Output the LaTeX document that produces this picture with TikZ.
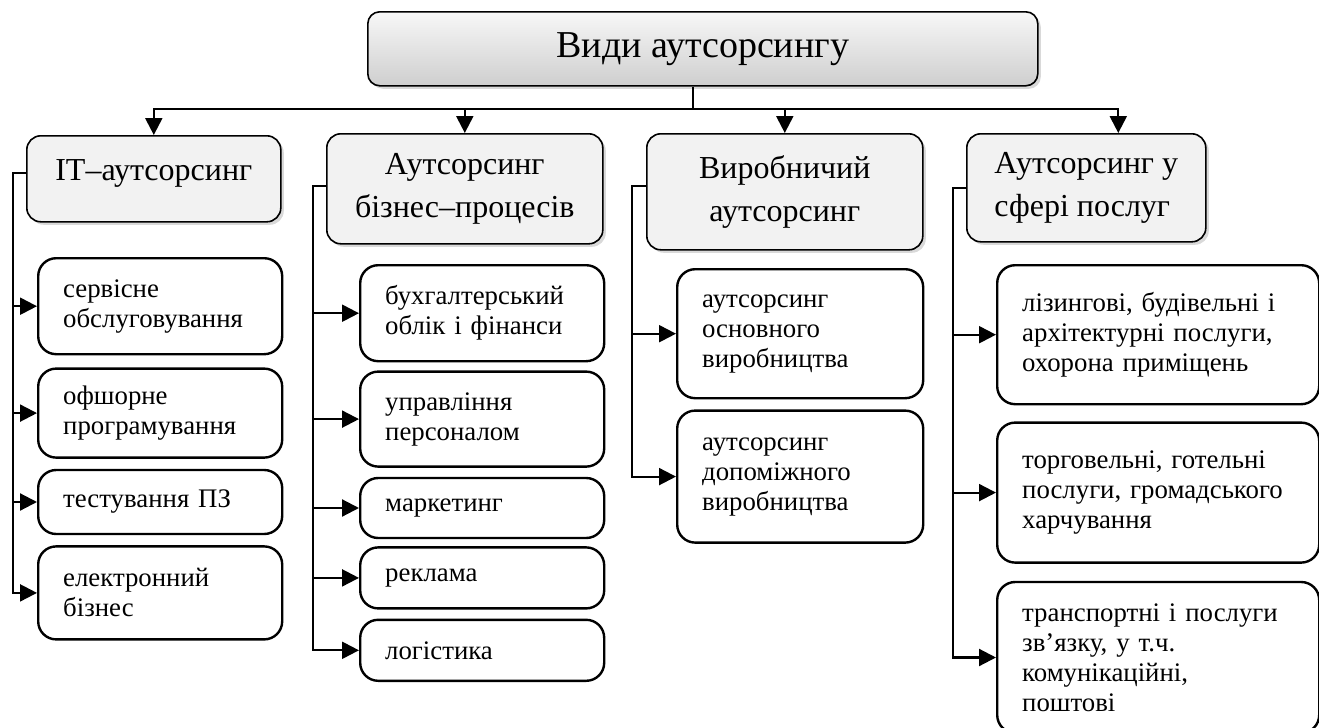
\documentclass[tikz,border=0pt]{standalone}
\usepackage{fontspec}
\setmainfont{Liberation Serif}
\usepackage{tikz}
\usetikzlibrary{arrows.meta, positioning, shadows}

\begin{document}
\begin{tikzpicture}[
x=0.5pt, y=-0.5pt,
node distance=5pt,
head/.style={rectangle, draw=black, line width=0.8pt, rounded corners=6pt, top color=gray!6, bottom color=gray!38, drop shadow={shadow xshift=1.5pt, shadow yshift=-1.5pt, opacity=0.3}, minimum width=335pt, minimum height=37pt, font=\fontsize{19}{23}\selectfont},
kind/.style={rectangle, draw=black, line width=0.8pt, rounded corners=7pt, fill=gray!10, drop shadow={shadow xshift=1.5pt, shadow yshift=-1.5pt, opacity=0.3}, align=center, font=\fontsize{16}{21.5}\selectfont},
item/.style={rectangle, draw=black, line width=1.2pt, rounded corners=9pt, fill=white, align=left, inner xsep=12.5pt, font=\fontsize{13.4}{15}\selectfont},
arr/.style={line width=1.1pt, -{Triangle[length=8.5pt, width=8.5pt]}},
bus/.style={line width=1.1pt}
]
\useasboundingbox (0,0) rectangle (1319,728);

% Title
\node[head, anchor=north west] (types) at (367,11) {Види аутсорсингу};

% Kinds
\node[kind, anchor=north west, minimum width=127pt, minimum height=43pt, text depth=9pt] (it) at (26,135) {IT–аутсорсинг};
\node[kind, anchor=north west, minimum width=138pt, minimum height=55pt] (biz) at (326,133) {Аутсорсинг\\бізнес–процесів};
\node[kind, anchor=north west, minimum width=138pt, minimum height=58pt] (prod) at (646,133) {Виробничий\\аутсорсинг};
\node[kind, anchor=north west, minimum width=119.5pt, minimum height=54pt, align=left] (serv) at (966,133) {Аутсорсинг у\\сфері послуг};

% Main branches
\draw[bus] ([xshift=-5pt]types.south) -- ++(0,22) coordinate (hub);
\draw[arr] (hub) -| (it);
\draw[arr] (hub) -| (biz);
\draw[arr] (hub) -| (prod);
\draw[arr] (hub) -| ([xshift=16pt]serv.north);

% IT items
\node[item, anchor=north west, text width=97pt, minimum height=48pt] (it1) at (37,257) {сервісне\\обслуговування};
\node[item, below=6pt of it1, text width=97pt, minimum height=44.5pt] (it2) {офшорне\\програмування};
\node[item, below=5pt of it2, text width=97pt, minimum height=32pt] (it3) {тестування ПЗ};
\node[item, below=5pt of it3, text width=97pt, minimum height=46.5pt] (it4) {електронний\\бізнес};

% Business items
\node[item, anchor=north west, text width=97pt, minimum height=48pt] (biz1) at (359,264) {бухгалтерський\\облік і фінанси};
\node[item, below=4pt of biz1, text width=97pt, minimum height=47.5pt] (biz2) {управління\\персоналом};
\node[item, below=4.5pt of biz2, text width=97pt, minimum height=30pt] (biz3) {маркетинг};
\node[item, below=3.5pt of biz3, text width=97pt, minimum height=30.5pt] (biz4) {реклама};
\node[item, below=4.5pt of biz4, text width=97pt, minimum height=30.5pt] (biz5) {логістика};

% Production items
\node[item, anchor=north west, text width=98pt, minimum height=64.5pt] (prod1) at (676,268) {аутсорсинг\\основного\\виробництва};
\node[item, below=5pt of prod1, text width=98pt, minimum height=66pt] (prod2) {аутсорсинг\\допоміжного\\виробництва};

% Service items
\node[item, anchor=north west, text width=136pt, minimum height=69.5pt] (serv1) at (996,264) {лізингові, будівельні і\\архітектурні послуги,\\охорона приміщень};
\node[item, below=8pt of serv1, text width=136pt, minimum height=70pt] (serv2) {торговельні, готельні\\послуги, громадського\\харчування};
\node[item, below=8.5pt of serv2, text width=136pt, minimum height=75.5pt] (serv3) {транспортні і послуги\\зв’язку, у т.ч.\\комунікаційні,\\поштові};

% IT links
\draw[arr] ([yshift=3pt]it.west) -- ++(-13,0) |- (it1);
\draw[arr] ([yshift=3pt]it.west) -- ++(-13,0) |- (it2);
\draw[arr] ([yshift=3pt]it.west) -- ++(-13,0) |- (it3);
\draw[arr] ([yshift=3pt]it.west) -- ++(-13,0) |- (it4);

% Business links
\draw[arr] ([yshift=1.5pt]biz.west) -- ++(-13,0) |- (biz1);
\draw[arr] ([yshift=1.5pt]biz.west) -- ++(-13,0) |- (biz2);
\draw[arr] ([yshift=1.5pt]biz.west) -- ++(-13,0) |- (biz3);
\draw[arr] ([yshift=1.5pt]biz.west) -- ++(-13,0) |- (biz4);
\draw[arr] ([yshift=1.5pt]biz.west) -- ++(-13,0) |- (biz5);

% Production links
\draw[arr] ([yshift=3pt]prod.west) -- ++(-14,0) |- (prod1);
\draw[arr] ([yshift=3pt]prod.west) -- ++(-14,0) |- (prod2);

% Service links
\draw[arr] (serv.west) -- ++(-13,0) |- (serv1);
\draw[arr] (serv.west) -- ++(-13,0) |- (serv2);
\draw[arr] (serv.west) -- ++(-13,0) |- (serv3);

\end{tikzpicture}
\end{document}
